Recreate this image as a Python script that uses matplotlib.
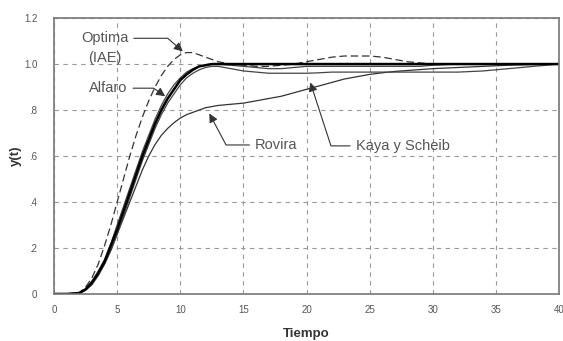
import matplotlib
matplotlib.use("Agg")
import matplotlib.pyplot as plt

plt.rcParams['font.family'] = ['Liberation Sans', 'DejaVu Sans']

# tiempo y respuestas y(t)
t = [0, 1, 2, 2.5, 3, 3.5, 4, 4.5, 5, 5.5, 6, 6.5, 7, 7.5, 8, 8.5, 9, 9.5, 10,
     10.5, 11, 11.5, 12, 12.5, 13, 14, 15, 16, 17, 18, 19, 20, 21, 22, 23, 24,
     25, 26, 27, 28, 29, 30, 32, 34, 36, 38, 40]

optima = [0, 0, 0.005, 0.03, 0.07, 0.13, 0.21, 0.30, 0.40, 0.50, 0.60, 0.69, 0.77,
          0.84, 0.90, 0.95, 0.99, 1.02, 1.04, 1.05, 1.05, 1.04, 1.03, 1.02, 1.01,
          1.00, 0.995, 0.99, 0.99, 0.995, 1.00, 1.01, 1.02, 1.03, 1.035, 1.035,
          1.035, 1.03, 1.02, 1.01, 1.005, 1.0, 1.0, 1.0, 1.0, 1.0, 1.0]

alfaro = [0, 0, 0.004, 0.02, 0.05, 0.09, 0.14, 0.21, 0.28, 0.36, 0.44, 0.52, 0.60,
          0.67, 0.74, 0.80, 0.85, 0.89, 0.93, 0.955, 0.975, 0.99, 0.995, 1.0, 1.0,
          1.0, 1.0, 1.0, 1.0, 1.0, 1.0, 1.0, 1.0, 1.0, 1.0, 1.0, 1.0, 1.0, 1.0,
          1.0, 1.0, 1.0, 1.0, 1.0, 1.0, 1.0, 1.0]

kaya = [0, 0, 0.003, 0.018, 0.045, 0.085, 0.13, 0.19, 0.26, 0.34, 0.42, 0.50, 0.58,
        0.65, 0.72, 0.78, 0.83, 0.87, 0.91, 0.94, 0.96, 0.975, 0.985, 0.99, 0.99,
        0.98, 0.97, 0.965, 0.96, 0.96, 0.96, 0.96, 0.962, 0.965, 0.965, 0.965,
        0.965, 0.965, 0.965, 0.965, 0.965, 0.965, 0.965, 0.97, 0.98, 0.99, 1.0]

otro = [0, 0, 0.004, 0.022, 0.055, 0.10, 0.15, 0.22, 0.30, 0.38, 0.46, 0.54, 0.62,
        0.69, 0.76, 0.82, 0.87, 0.91, 0.94, 0.965, 0.98, 0.99, 0.995, 1.0, 1.0,
        0.995, 0.99, 0.985, 0.98, 0.98, 0.985, 0.99, 0.99, 0.99, 0.99, 0.99,
        0.99, 0.99, 0.99, 0.99, 0.99, 0.995, 1.0, 1.0, 1.0, 1.0, 1.0]

rovira = [0, 0, 0.003, 0.016, 0.04, 0.08, 0.13, 0.19, 0.26, 0.33, 0.40, 0.47, 0.54,
          0.60, 0.65, 0.69, 0.72, 0.745, 0.765, 0.78, 0.79, 0.80, 0.81, 0.815,
          0.82, 0.825, 0.83, 0.84, 0.85, 0.86, 0.875, 0.89, 0.905, 0.92, 0.935,
          0.945, 0.955, 0.962, 0.968, 0.972, 0.976, 0.98, 0.985, 0.99, 0.995,
          0.998, 1.0]

xticks = [0, 5, 10, 15, 20, 25, 30, 35, 40]
yticks = [0, 0.2, 0.4, 0.6, 0.8, 1.0, 1.2]
ylabels = ['0', '.2', '.4', '.6', '.8', '1.0', '1.2']

gris = '#555555'

fig = plt.figure(figsize=(5.63, 3.41), dpi=100)
ax = fig.add_axes([0.096, 0.138, 0.897, 0.809])

ax.plot(t, optima, '--', color='#333333', lw=0.9, dashes=(6, 3))
ax.plot(t, rovira, '-', color='#333333', lw=0.9)
ax.plot(t, kaya, '-', color='#444444', lw=0.9)
ax.plot(t, otro, '-', color='#444444', lw=0.9)
ax.plot(t, alfaro, '-', color='black', lw=1.8)

ax.set_xlim(0, 40)
ax.set_ylim(0, 1.2)
ax.set_xticks(xticks)
ax.set_yticks(yticks)
ax.set_yticklabels(ylabels)
ax.tick_params(labelsize=7, colors=gris, length=0)
ax.tick_params(axis='y', pad=12)
ax.tick_params(axis='x', pad=8)
ax.grid(True, linestyle=(0, (4, 4)), color='#999999', lw=0.8)
for s in ax.spines.values():
    s.set_color('#777777')
    s.set_linewidth(1.2)

ax.set_xlabel('Tiempo', fontsize=9.5, fontweight='bold', color='#333333', labelpad=9)
ax.set_ylabel('y(t)', fontsize=9.5, fontweight='bold', color='#333333')
ax.yaxis.set_label_coords(-0.063, 0.5)

flecha = dict(arrowstyle='-|>', color='#333333', lw=0.8, mutation_scale=13,
              shrinkA=2, shrinkB=0)
ax.annotate('Optima\n(IAE)', xy=(10.2, 1.055), xytext=(4.0, 1.07),
            ha='center', va='center', fontsize=10.5, color=gris, linespacing=1.6,
            arrowprops=dict(flecha, connectionstyle='angle,angleA=0,angleB=139,rad=0',
                            relpos=(1.0, 0.78)))
ax.annotate('Alfaro', xy=(8.8, 0.86), xytext=(4.3, 0.895),
            ha='center', va='center', fontsize=10.5, color=gris,
            arrowprops=dict(flecha, connectionstyle='angle,angleA=0,angleB=145,rad=0',
                            relpos=(1.0, 0.5)))
ax.annotate('Rovira', xy=(12.3, 0.785), xytext=(17.6, 0.648),
            ha='center', va='center', fontsize=10.5, color=gris,
            arrowprops=dict(flecha, connectionstyle='angle,angleA=180,angleB=-62,rad=0',
                            relpos=(0.0, 0.5)))
ax.annotate('Kaya y Scheib', xy=(20.3, 0.92), xytext=(27.6, 0.644),
            ha='center', va='center', fontsize=10.5, color=gris,
            arrowprops=dict(flecha, connectionstyle='angle,angleA=180,angleB=-72,rad=0',
                            relpos=(0.0, 0.5)))

fig.savefig('out.png', dpi=100)
